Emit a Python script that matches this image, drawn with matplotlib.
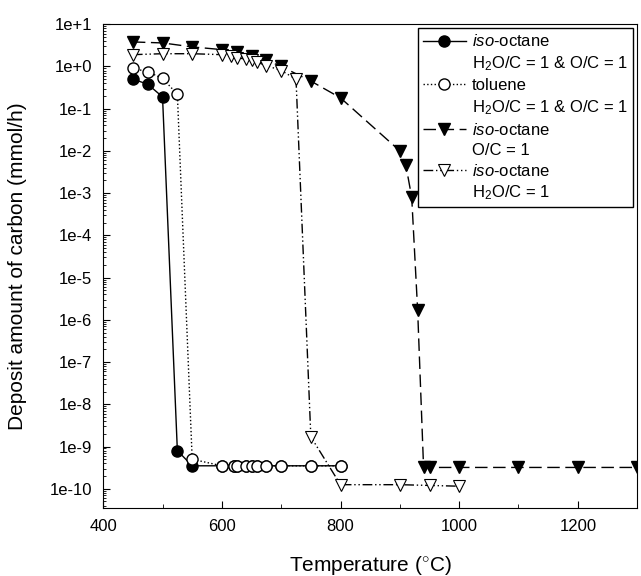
import matplotlib
matplotlib.use('Agg')
import matplotlib.pyplot as plt
from matplotlib.lines import Line2D
from matplotlib.ticker import FixedLocator, MultipleLocator, LogLocator, NullFormatter

plt.rcParams['font.family'] = ['Liberation Sans', 'DejaVu Sans']
plt.rcParams['mathtext.fontset'] = 'custom'
plt.rcParams['mathtext.rm'] = 'Liberation Sans'
plt.rcParams['mathtext.it'] = 'Liberation Sans:italic'

# iso-octane, H2O/C = 1 & O/C = 1
t_iso_both = [450, 475, 500, 525, 550, 600, 620, 625, 640, 650, 660, 675, 700, 750, 800]
c_iso_both = [0.5, 0.38, 0.19, 8e-10, 3.5e-10, 3.5e-10, 3.5e-10, 3.5e-10, 3.5e-10,
              3.5e-10, 3.5e-10, 3.5e-10, 3.5e-10, 3.5e-10, 3.5e-10]

# toluene, H2O/C = 1 & O/C = 1
t_tol = [450, 475, 500, 525, 550, 600, 620, 625, 640, 650, 660, 675, 700, 750, 800]
c_tol = [0.9, 0.75, 0.52, 0.22, 5e-10, 3.5e-10, 3.5e-10, 3.5e-10, 3.5e-10,
         3.5e-10, 3.5e-10, 3.5e-10, 3.5e-10, 3.5e-10, 3.5e-10]

# iso-octane, O/C = 1
t_iso_oc = [450, 500, 550, 600, 625, 650, 675, 700, 750, 800, 900, 910, 920, 930,
            940, 950, 1000, 1100, 1200, 1300]
c_iso_oc = [3.8, 3.6, 2.9, 2.5, 2.2, 1.8, 1.4, 1.0, 0.45, 0.18, 0.01, 0.0047, 8e-4, 1.7e-6,
            3.2e-10, 3.2e-10, 3.2e-10, 3.2e-10, 3.2e-10, 3.2e-10]

# iso-octane, H2O/C = 1
t_iso_h2o = [450, 500, 550, 600, 615, 625, 640, 650, 660, 675, 700, 725, 750,
             800, 900, 950, 1000]
c_iso_h2o = [1.9, 2.0, 2.0, 1.9, 1.75, 1.6, 1.5, 1.4, 1.25, 1.05, 0.8, 0.5, 1.7e-9,
             1.25e-10, 1.25e-10, 1.2e-10, 1.15e-10]

labels = [r'$\it{iso}$-octane', r'H$_2$O/C = 1 & O/C = 1',
          'toluene', r'H$_2$O/C = 1 & O/C = 1',
          r'$\it{iso}$-octane', 'O/C = 1',
          r'$\it{iso}$-octane', r'H$_2$O/C = 1']

fig = plt.figure(figsize=(6.41, 5.76), dpi=100)
ax = fig.add_axes([0.161, 0.118, 0.833, 0.840])

ms = 8
l1, = ax.plot(t_iso_both, c_iso_both, '-', color='black', lw=1,
              marker='o', ms=ms, mfc='black', mec='black')
l2, = ax.plot(t_tol, c_tol, ':', color='black', lw=1,
              marker='o', ms=ms, mfc='white', mec='black')
l3, = ax.plot(t_iso_oc, c_iso_oc, color='black', lw=1, dashes=(9, 4),
              marker='v', ms=ms + 1, mfc='black', mec='black')
l4, = ax.plot(t_iso_h2o, c_iso_h2o, color='black', lw=1, dashes=(7, 2, 1, 2, 1, 2),
              marker='v', ms=ms + 1, mfc='white', mec='black', mew=0.8)

ax.set_yscale('log')
ax.set_xlim(400, 1300)
ax.set_ylim(3.5e-11, 10)

ax.xaxis.set_major_locator(MultipleLocator(200))
ax.xaxis.set_minor_locator(MultipleLocator(100))
yt = [10.0 ** e for e in range(1, -11, -1)]
ax.yaxis.set_major_locator(FixedLocator(yt))
ax.set_yticklabels(['1e+1', '1e+0'] + ['1e-%d' % e for e in range(1, 11)])
ax.yaxis.set_minor_locator(LogLocator(base=10, subs=range(2, 10), numticks=50))
ax.yaxis.set_minor_formatter(NullFormatter())
ax.tick_params(axis='both', which='both', direction='in', labelsize=12)
ax.tick_params(axis='both', which='major', length=5, pad=8)
ax.tick_params(axis='both', which='minor', length=3)
ax.tick_params(axis='y', which='minor', length=2)
ax.tick_params(top=False, right=False, which='both')

ax.set_xlabel(r'Temperature ($^{\circ}$C)', fontsize=15, labelpad=14)
ax.set_ylabel('Deposit amount of carbon (mmol/h)', fontsize=15, labelpad=16)

blank = Line2D([], [], linestyle='none')
handles = [l1, blank, l2, blank, l3, blank, l4, blank]
leg = ax.legend(handles, labels, loc='upper right', bbox_to_anchor=(1.0, 1.0),
                fontsize=12, frameon=True, fancybox=False, edgecolor='black',
                framealpha=1, labelspacing=0.3, handlelength=2.6, handletextpad=0.35,
                borderpad=0.3, borderaxespad=0.25)
leg.get_frame().set_linewidth(1.0)

fig.savefig('out.png', dpi=100)
